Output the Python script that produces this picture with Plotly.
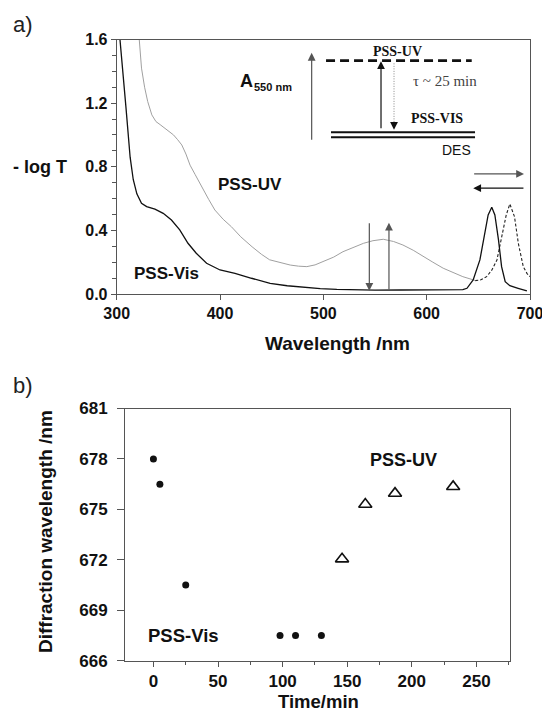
import plotly.graph_objects as go

W, H = 542, 714

# ---------------- data: panel a (absorbance spectra) ----------------
vis_wl = [301, 303, 306, 309, 313, 316, 319.5, 324, 329, 337, 345, 353, 361, 369, 377,
          387, 400, 414.5, 430.5, 448.5, 465, 480.5, 497, 513, 530, 550, 575, 600, 620,
          635, 639, 645, 651.5, 656.5, 659.5, 663, 666, 669.5, 672.5, 676, 680.5, 688.5, 697]
vis_abs = [1.76, 1.62, 1.4, 1.17, 0.86, 0.72, 0.63, 0.57, 0.549, 0.533, 0.507, 0.465, 0.403,
           0.319, 0.256, 0.193, 0.151, 0.130, 0.099, 0.067, 0.052, 0.042, 0.034, 0.029, 0.026,
           0.024, 0.025, 0.025, 0.025, 0.028, 0.036, 0.088, 0.214, 0.382, 0.497, 0.545, 0.497,
           0.34, 0.172, 0.077, 0.052, 0.036, 0.019]

uv_wl = [320, 322, 324, 327, 330, 334, 338, 342, 347, 351, 355, 359, 363, 367, 371, 376, 382,
         389, 395, 403, 411, 420, 431, 440, 448, 458, 468, 476, 484, 492, 500, 510, 519, 529,
         539, 548, 558, 568, 577, 587, 597, 606, 616, 626, 635, 641, 647]
uv_abs = [1.75, 1.58, 1.42, 1.30, 1.21, 1.126, 1.084, 1.065, 1.042, 1.02, 1.0, 0.97, 0.937,
          0.88, 0.81, 0.75, 0.675, 0.595, 0.528, 0.47, 0.423, 0.36, 0.297, 0.25, 0.215, 0.197,
          0.182, 0.175, 0.172, 0.183, 0.203, 0.232, 0.266, 0.293, 0.319, 0.335, 0.344, 0.33,
          0.308, 0.275, 0.238, 0.2, 0.162, 0.133, 0.109, 0.097, 0.085]

uv_peak_wl = [647, 652, 658, 663, 668, 672.5, 677, 680.5, 685, 688.7, 693.5, 697, 700]
uv_peak_abs = [0.084, 0.088, 0.109, 0.15, 0.214, 0.36, 0.497, 0.566, 0.486, 0.319, 0.172, 0.13, 0.109]

# ---------------- data: panel b (diffraction wavelength vs time) ----------------
vis_time = [0, 5, 25, 98, 110, 130]
vis_lambda = [678.0, 676.5, 670.5, 667.5, 667.5, 667.5]
uv_time = [146, 164, 187, 232]
uv_lambda = [672.05, 675.3, 675.95, 676.35]

a_ticks = [300, 400, 500, 600, 700]

SANS = "Liberation Sans, Arial, sans-serif"
SERIF = "Liberation Serif, Times New Roman, serif"
AX = "#555555"
INK = "#111111"


def PX(p):
    return p / W


def PY(p):
    return 1 - p / H


fig = go.Figure()

# panel a
fig.add_trace(go.Scatter(x=uv_wl, y=uv_abs, mode="lines",
                         line=dict(color="#a0a0a0", width=1), xaxis="x", yaxis="y"))
fig.add_trace(go.Scatter(x=uv_peak_wl, y=uv_peak_abs, mode="lines",
                         line=dict(color="#222222", width=1.1, dash="3px,2px"),
                         xaxis="x", yaxis="y"))
fig.add_trace(go.Scatter(x=vis_wl, y=vis_abs, mode="lines",
                         line=dict(color=INK, width=1.3), xaxis="x", yaxis="y"))

# dotted relaxation arrow line in inset
fig.add_trace(go.Scatter(x=[568.4, 568.4], y=[1.45, 1.07], mode="lines",
                         line=dict(color="#888888", width=1, dash="1px,1.5px"),
                         xaxis="x", yaxis="y", hoverinfo="skip"))

# panel b
fig.add_trace(go.Scatter(x=vis_time, y=vis_lambda, mode="markers",
                         marker=dict(symbol="circle", size=7, color=INK),
                         xaxis="x2", yaxis="y2"))
fig.add_trace(go.Scatter(x=uv_time, y=uv_lambda, mode="markers",
                         marker=dict(symbol="triangle-up-open", size=11.5, color=INK,
                                     line=dict(width=1.6, color=INK)),
                         xaxis="x2", yaxis="y2"))

tick_font_a = dict(family=SANS, size=16, color=INK, weight="bold")
tick_font_b = dict(family=SANS, size=17, color=INK, weight="bold")

common = dict(showline=True, linecolor=AX, linewidth=1, mirror=True, ticks="outside",
              tickcolor=AX, tickwidth=1, showgrid=False, zeroline=False, fixedrange=True,
              ticklabeloverflow="allow", automargin=False)

fig.update_layout(
    width=W, height=H, margin=dict(l=0, r=0, t=0, b=0, pad=0, autoexpand=False),
    paper_bgcolor="white", plot_bgcolor="white", showlegend=False,
    xaxis=dict(domain=[PX(116.7), PX(530)], range=[300, 700], anchor="y",
               tickvals=a_ticks, ticklen=5, tickfont=tick_font_a, **common),
    yaxis=dict(domain=[PY(294), PY(39.5)], range=[0, 1.6], anchor="x",
               tick0=0, dtick=0.4, tickformat=".1f", ticklen=5, tickfont=tick_font_a,
               minor=dict(dtick=0.1, ticks="outside", ticklen=4, tickcolor=AX, showgrid=False),
               **common),
    xaxis2=dict(domain=[PX(125), PX(510)], range=[-22, 276], anchor="y2",
                tick0=0, dtick=50, ticklen=5, tickfont=tick_font_b,
                minor=dict(dtick=25, ticks="outside", ticklen=3, tickcolor=AX, showgrid=False),
                **common),
    yaxis2=dict(domain=[PY(660.7), PY(408.5)], range=[666, 681], anchor="x2",
                tick0=666, dtick=3, ticklen=7, tickfont=tick_font_b, ticklabelstandoff=6,
                **common),
)

shapes = [
    # inset: dashed PSS-UV level
    dict(type="line", xref="x", yref="y", x0=502.6, x1=643.6, y0=1.467, y1=1.467,
         line=dict(color=INK, width=2.8, dash="9px,5px")),
    # inset: double DES / PSS-VIS lines
    dict(type="line", xref="x", yref="y", x0=507.4, x1=646.8, y0=1.017, y1=1.017,
         line=dict(color=INK, width=2)),
    dict(type="line", xref="x", yref="y", x0=507.4, x1=646.8, y0=0.986, y1=0.986,
         line=dict(color=INK, width=2)),
]
fig.update_layout(shapes=shapes)

ann = []


def arrow(x, y, ax, ay, color, width=1.2, size=1.3, xr="x", yr="y"):
    ann.append(dict(x=x, y=y, ax=ax, ay=ay, xref=xr, yref=yr, axref=xr, ayref=yr,
                    text="", showarrow=True, arrowhead=2, arrowsize=size,
                    arrowwidth=width, arrowcolor=color, standoff=0, startstandoff=0))


# spectral-change arrows
arrow(544.5, 0.02, 544.5, 0.455, "#555555")
arrow(563.5, 0.448, 563.5, 0.02, "#555555")
arrow(694.2, 0.755, 644.5, 0.755, "#555555")
arrow(645.1, 0.665, 695.1, 0.665, INK)
# inset arrows
arrow(488.7, 1.516, 488.7, 0.96, "#555555")
arrow(555.8, 1.463, 555.8, 1.033, INK)
arrow(568.4, 1.033, 568.4, 1.075, INK)


def text(x, y, s, size, family=SANS, bold=True, color=INK, xr="x", yr="y", angle=0,
         xanchor="center"):
    ann.append(dict(x=x, y=y, xref=xr, yref=yr, text=s, showarrow=False, textangle=angle,
                    xanchor=xanchor, yanchor="middle",
                    font=dict(family=family, size=size, color=color,
                              weight="bold" if bold else "normal")))


# panel a labels
text(429, 0.689, "PSS-UV", 17)
text(348, 0.13, "PSS-Vis", 17)
text(425.8, 1.338, "A", 18)
text(451, 1.300, "550 nm", 11)
text(571.3, 1.522, "PSS-UV", 14, family=SERIF)
text(609.7, 1.103, "PSS-VIS", 14, family=SERIF)
text(617.8, 1.342, "τ ~ 25 min", 15, family=SERIF, bold=False, color="#444444")
text(629, 0.908, "DES", 14, bold=False)

# panel b labels
text(193.3, 677.94, "PSS-UV", 18, xr="x2", yr="y2")
text(23, 667.47, "PSS-Vis", 18.5, xr="x2", yr="y2")

# titles and panel letters
text(PX(40), PY(167), "- log T", 18, xr="paper", yr="paper")
text(PX(337), PY(343), "Wavelength /nm", 19, xr="paper", yr="paper")
text(PX(318), PY(701), "Time/min", 18.5, xr="paper", yr="paper")
text(PX(45), PY(532), "Diffraction wavelength /nm", 19, xr="paper", yr="paper", angle=-90)
text(PX(23), PY(25), "a)", 22, bold=False, color="#222222", xr="paper", yr="paper")
text(PX(23), PY(385), "b)", 22, bold=False, color="#222222", xr="paper", yr="paper")

fig.update_layout(annotations=ann)

fig.write_html("out.html")
